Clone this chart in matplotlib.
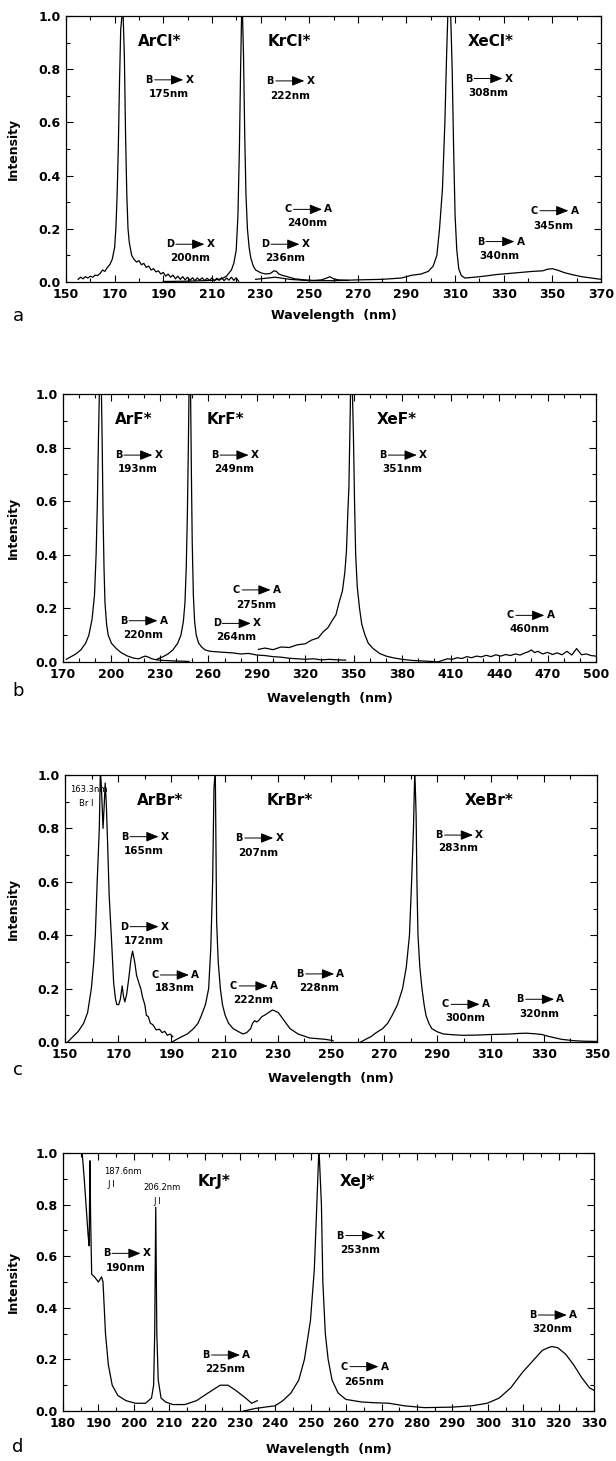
import matplotlib
matplotlib.use('Agg')
import matplotlib.pyplot as plt
import numpy as np
from matplotlib.ticker import FormatStrFormatter
from matplotlib.transforms import offset_copy

plt.rcParams['font.family'] = ['DejaVu Sans']
plt.rcParams['font.weight'] = 'bold'

# ---------------- panel a : chlorides ----------------
arcl_wl = [155, 156, 157, 158, 159, 160, 161, 162, 163, 164,
           165, 166, 167, 168, 169, 170, 170.5, 171, 171.5, 172,
           172.5, 173, 173.5, 174, 174.5, 175, 175.5, 176, 177, 178,
           179, 180, 181, 182, 183, 184, 185, 186, 187, 188,
           189, 190, 191, 192, 193, 194, 195, 196, 197, 198,
           199, 200, 201, 202, 203, 204, 205, 206, 207, 208,
           209, 210, 211, 212, 213, 214, 215, 216, 217, 218,
           219, 220, 221]
arcl_int = [0.010, 0.018, 0.012, 0.020, 0.015, 0.022, 0.018, 0.026, 0.024, 0.032,
            0.045, 0.040, 0.055, 0.065, 0.085, 0.13, 0.20, 0.32, 0.50, 0.75,
            0.95, 1.0, 1.0, 0.85, 0.55, 0.33, 0.20, 0.15, 0.10, 0.085,
            0.075, 0.08, 0.065, 0.07, 0.055, 0.06, 0.045, 0.05, 0.038, 0.042,
            0.03, 0.036, 0.022, 0.03, 0.018, 0.026, 0.012, 0.022, 0.01, 0.02,
            0.008, 0.018, 0.006, 0.016, 0.005, 0.015, 0.007, 0.016, 0.005, 0.014,
            0.006, 0.015, 0.004, 0.014, 0.006, 0.016, 0.005, 0.015, 0.007, 0.018,
            0.006, 0.016, 0.003]

krcl_wl = [190, 200, 210, 214, 216, 218, 219, 220, 220.7, 221.3,
           221.8, 222.2, 222.6, 223.0, 223.5, 224, 224.6, 225.3, 226, 227,
           228, 230, 232, 234, 235.5, 236.5, 237.5, 239, 241, 244,
           248, 252, 255, 257, 258.5, 260, 262, 266]
krcl_int = [0.002, 0.003, 0.006, 0.012, 0.022, 0.045, 0.07, 0.12, 0.25, 0.50,
            0.80, 1.0, 1.0, 0.85, 0.55, 0.33, 0.20, 0.13, 0.09, 0.06,
            0.045, 0.035, 0.03, 0.032, 0.042, 0.04, 0.03, 0.025, 0.02, 0.012,
            0.008, 0.006, 0.008, 0.014, 0.02, 0.012, 0.008, 0.006]

xecl_wl = [228, 236, 242, 250, 260, 270, 280, 288, 292, 296,
           299, 301, 302.5, 303.6, 304.8, 305.8, 306.5, 307, 308.2, 308.8,
           309.4, 310, 310.7, 311.5, 312.5, 314, 318, 322, 327, 332,
           337, 342, 346, 348, 350, 352, 355, 358, 362, 366,
           370]
xecl_int = [0.01, 0.018, 0.01, 0.005, 0.005, 0.008, 0.01, 0.015, 0.025, 0.03,
            0.04, 0.06, 0.1, 0.2, 0.35, 0.6, 0.85, 1.0, 1.0, 0.8,
            0.5, 0.25, 0.12, 0.05, 0.025, 0.015, 0.018, 0.022, 0.028, 0.032,
            0.036, 0.04, 0.042, 0.048, 0.05, 0.045, 0.035, 0.028, 0.02, 0.015,
            0.01]

a_mol = ['ArCl*', 'KrCl*', 'XeCl*']
a_mol_x = [188.7, 241.7, 324.8]
a_from = ['B', 'B', 'B', 'D', 'D', 'C', 'B', 'C']
a_to = ['X', 'X', 'X', 'X', 'X', 'A', 'A', 'A']
a_nm = ['175nm', '222nm', '308nm', '200nm', '236nm', '240nm', '340nm', '345nm']
a_x = [192.2, 242, 323.5, 200.9, 240, 249.3, 328.4, 350.6]
a_y = [0.76, 0.756, 0.765, 0.142, 0.142, 0.273, 0.152, 0.268]
a_nm_y = [0.706, 0.70, 0.712, 0.09, 0.09, 0.223, 0.098, 0.212]

# ---------------- panel b : fluorides ----------------
arf_wl = [172, 175, 178, 181, 184, 186, 188, 189.5, 190.5, 191.3,
          192, 192.5, 193.8, 194.3, 194.8, 195.4, 196, 197, 198, 200,
          203, 206, 210, 214, 217, 219, 221, 223, 225, 228,
          232, 238, 244, 248]
arf_int = [0.01, 0.02, 0.03, 0.045, 0.07, 0.1, 0.16, 0.25, 0.4, 0.6,
           0.85, 1.0, 1.0, 0.8, 0.55, 0.35, 0.22, 0.14, 0.1, 0.07,
           0.05, 0.035, 0.022, 0.014, 0.012, 0.018, 0.022, 0.018, 0.012, 0.008,
           0.006, 0.004, 0.003, 0.002]

krf_wl = [228, 232, 235, 238, 241, 243, 244.5, 245.5, 246.3, 247,
          247.6, 248, 249, 249.5, 250, 250.7, 251.5, 252.5, 254, 256,
          258, 261, 265, 270, 275, 280, 285, 290, 295, 300,
          305, 310, 315, 320, 325, 330, 335, 340, 345]
krf_int = [0.01, 0.02, 0.03, 0.045, 0.07, 0.1, 0.15, 0.22, 0.35, 0.55,
           0.8, 1.0, 1.0, 0.7, 0.45, 0.25, 0.15, 0.1, 0.07, 0.055,
           0.045, 0.04, 0.038, 0.036, 0.034, 0.03, 0.032, 0.026, 0.024, 0.02,
           0.018, 0.014, 0.012, 0.01, 0.012, 0.008, 0.01, 0.008, 0.007]

xef_wl = [291, 295, 300, 305, 310, 315, 320, 324, 328, 331,
          334, 337, 339, 341, 343, 344.5, 345.5, 346.3, 347, 347.6,
          348, 349.2, 349.8, 350.5, 351.2, 352.2, 353.6, 355, 357, 359,
          362, 366, 370, 375, 380, 386, 392, 398, 402]
xef_int = [0.047, 0.052, 0.046, 0.056, 0.054, 0.064, 0.068, 0.082, 0.09, 0.112,
           0.128, 0.158, 0.176, 0.224, 0.265, 0.335, 0.415, 0.55, 0.65, 0.85,
           1.0, 1.0, 0.85, 0.6, 0.4, 0.28, 0.2, 0.14, 0.1, 0.07,
           0.05, 0.032, 0.022, 0.015, 0.01, 0.006, 0.004, 0.002, 0.0]

xef_tail_wl = [402, 405, 408, 411, 414, 417, 420, 423, 426, 429,
               432, 435, 438, 441, 444, 447, 450, 453, 456, 458,
               460, 462, 464, 467, 470, 473, 476, 479, 482, 485,
               488, 491, 494, 497, 500]
xef_tail_int = [0.0, 0.006, 0.012, 0.01, 0.016, 0.013, 0.02, 0.016, 0.022, 0.019,
                0.025, 0.02, 0.027, 0.022, 0.028, 0.024, 0.03, 0.026, 0.034, 0.038,
                0.045, 0.035, 0.04, 0.03, 0.036, 0.028, 0.034, 0.027, 0.04, 0.026,
                0.05, 0.027, 0.03, 0.024, 0.022]

b_mol = ['ArF*', 'KrF*', 'XeF*']
b_mol_x = [214.1, 270.7, 376.8]
b_from = ['B', 'B', 'B', 'B', 'C', 'D', 'C']
b_to = ['X', 'X', 'X', 'A', 'A', 'X', 'A']
b_nm = ['193nm', '249nm', '351nm', '220nm', '275nm', '264nm', '460nm']
b_x = [216.3, 275.9, 380, 219.5, 289.5, 277.3, 459]
b_y = [0.772, 0.772, 0.772, 0.154, 0.269, 0.144, 0.174]
b_nm_y = [0.719, 0.719, 0.719, 0.1, 0.213, 0.092, 0.122]

# ---------------- panel c : bromides ----------------
arbr_wl = [151, 153, 155, 157, 158.5, 159.9, 160.8, 161.4, 162.1, 162.9,
           163.3, 163.7, 164.3, 164.8, 165.1, 165.5, 166, 166.6, 167.4, 168.3,
           169, 169.5, 170.2, 170.8, 171.5, 172, 172.5, 173.2, 174, 174.8,
           175.4, 176.2, 176.9, 177.8, 178.5, 179.1, 180, 180.6, 181.3, 182.1,
           183, 184.3, 185.5, 186.5, 187.5, 188.5, 189.5, 190.5]
arbr_int = [0.0, 0.02, 0.04, 0.07, 0.11, 0.2, 0.3, 0.4, 0.6, 0.8,
            1.02, 0.95, 0.8, 0.9, 0.97, 0.9, 0.75, 0.55, 0.4, 0.22,
            0.16, 0.14, 0.14, 0.16, 0.21, 0.17, 0.15, 0.18, 0.24, 0.31,
            0.34, 0.3, 0.25, 0.22, 0.2, 0.17, 0.14, 0.1, 0.095, 0.07,
            0.065, 0.045, 0.048, 0.035, 0.04, 0.025, 0.03, 0.02]

krbr_wl = [190.2, 192, 193.9, 196, 198.3, 200, 201.3, 202.8, 204, 204.8,
           205.5, 206, 206.5, 207, 207.6, 208.4, 209.2, 210.2, 211.5, 213.2,
           215, 216.9, 218.3, 219.8, 220.5, 221.3, 222, 222.8, 224, 225,
           226.5, 228, 229.2, 230.2, 231.3, 232.4, 234.6, 237.6, 242, 247.9,
           250.8]
krbr_int = [0.0, 0.01, 0.02, 0.03, 0.05, 0.07, 0.1, 0.14, 0.2, 0.35,
            0.6, 0.95, 1.02, 0.45, 0.3, 0.2, 0.14, 0.1, 0.07, 0.05,
            0.04, 0.03, 0.035, 0.05, 0.07, 0.08, 0.075, 0.08, 0.095, 0.1,
            0.11, 0.12, 0.115, 0.11, 0.095, 0.08, 0.05, 0.03, 0.015, 0.01,
            0.005]

xebr_wl = [261.2, 263, 265, 267, 269.4, 271.3, 273, 275, 276.9, 278.3,
           279.5, 280.3, 281, 281.5, 282, 282.3, 282.7, 283.4, 284.2, 285,
           285.7, 286.8, 287.9, 290, 292.3, 296, 299.7, 305, 310, 314,
           317.5, 320.5, 323.4, 326.5, 329.3, 332.2, 336.7, 341.1, 345, 350]
xebr_int = [0.0, 0.01, 0.02, 0.035, 0.05, 0.07, 0.1, 0.14, 0.2, 0.28,
            0.4, 0.6, 0.8, 1.02, 0.85, 0.6, 0.4, 0.28, 0.2, 0.14,
            0.1, 0.07, 0.05, 0.038, 0.03, 0.027, 0.025, 0.026, 0.028, 0.029,
            0.03, 0.032, 0.033, 0.031, 0.028, 0.02, 0.01, 0.005, 0.003, 0.002]

c_mol = ['ArBr*', 'KrBr*', 'XeBr*']
c_mol_x = [185.8, 234.6, 309.3]
c_from = ['B', 'B', 'B', 'D', 'C', 'C', 'B', 'C', 'B']
c_to = ['X', 'X', 'X', 'X', 'A', 'A', 'A', 'A', 'A']
c_nm = ['165nm', '207nm', '283nm', '172nm', '183nm', '222nm', '228nm', '300nm', '320nm']
c_x = [179.7, 222.8, 297.9, 179.7, 191.1, 220.7, 245.7, 300.4, 328.4]
c_y = [0.769, 0.764, 0.775, 0.432, 0.251, 0.21, 0.255, 0.141, 0.16]
c_nm_y = [0.715, 0.709, 0.725, 0.379, 0.201, 0.157, 0.201, 0.089, 0.105]
c_lines = ['163.3nm', 'Br I']
c_lines_x = [158.9, 158]
c_lines_y = [0.944, 0.894]

# ---------------- panel d : iodides ----------------
krj_wl = [185.3, 186, 186.6, 187.1, 187.4, 187.6, 187.8, 188.1, 188.9, 190,
          190.9, 191.3, 192, 192.8, 193.9, 195.5, 197.8, 200.5, 203.3, 205,
          205.6, 205.9, 206.2, 206.5, 206.9, 207.7, 209, 211, 214.4, 217.7,
          221, 224.4, 226.6, 228.8, 231.6, 233.3, 234.9]
krj_int = [1.02, 0.9, 0.78, 0.68, 0.64, 0.97, 0.75, 0.53, 0.52, 0.5,
           0.52, 0.5, 0.3, 0.18, 0.1, 0.06, 0.04, 0.03, 0.03, 0.05,
           0.1, 0.3, 0.79, 0.3, 0.12, 0.05, 0.035, 0.025, 0.025, 0.04,
           0.07, 0.1, 0.1, 0.08, 0.05, 0.03, 0.04]

xej_wl = [231, 234.4, 237, 239.9, 242.1, 244.4, 246.6, 248.2, 249.9, 251,
          251.7, 252.3, 253, 253.4, 254.1, 254.9, 256, 257.7, 259.9, 264.3,
          268, 272.1, 276.5, 282.1, 289.8, 295.4, 299.8, 303.2, 306.5, 309.8,
          313.1, 315.4, 317, 318.1, 319.8, 322, 324.2, 326.5, 328.7, 330]
xej_int = [0.0, 0.01, 0.015, 0.02, 0.04, 0.07, 0.12, 0.2, 0.35, 0.55,
           0.8, 1.02, 0.8, 0.5, 0.3, 0.2, 0.12, 0.07, 0.045, 0.035,
           0.032, 0.03, 0.02, 0.013, 0.015, 0.02, 0.03, 0.05, 0.09, 0.15,
           0.2, 0.235, 0.245, 0.25, 0.245, 0.22, 0.18, 0.13, 0.09, 0.08]

d_mol = ['KrJ*', 'XeJ*']
d_mol_x = [222.7, 263.2]
d_from = ['B', 'B', 'B', 'C', 'B']
d_to = ['X', 'X', 'A', 'A', 'A']
d_nm = ['190nm', '253nm', '225nm', '265nm', '320nm']
d_x = [197.8, 263.8, 225.9, 265, 318.2]
d_y = [0.611, 0.68, 0.217, 0.172, 0.372]
d_nm_y = [0.556, 0.624, 0.162, 0.114, 0.317]
d_lines = ['187.6nm', 'J I', '206.2nm', 'J I']
d_lines_x = [196.9, 193.6, 208.1, 206.6]
d_lines_y = [0.928, 0.876, 0.867, 0.811]

W, H = 616, 1461
fig = plt.figure(figsize=(W / 100, H / 100), dpi=100)


def make_axes(left, top, right, bottom):
    return fig.add_axes([left / W, 1 - bottom / H, (right - left) / W, (bottom - top) / H])


def setup(ax, xmin, xmax, major, minor, labelpad, left, right):
    ax.set_xlim(xmin, xmax)
    ax.set_ylim(0, 1)
    ax.set_xticks(np.arange(xmin, xmax + 1, major))
    ax.set_xticks(np.arange(xmin, xmax + 1, minor), minor=True)
    ax.set_yticks(np.arange(0, 1.01, 0.2))
    ax.set_yticks(np.arange(0, 1.01, 0.1), minor=True)
    ax.yaxis.set_major_formatter(FormatStrFormatter('%.1f'))
    ax.tick_params(which='both', direction='in', top=True, right=True, width=0.8)
    ax.tick_params(which='major', length=5, labelsize=9, pad=4)
    ax.tick_params(which='minor', length=3)
    for s in ax.spines.values():
        s.set_linewidth(0.9)
    ax.set_xlabel('Wavelength  (nm)', fontsize=9, fontweight='bold', labelpad=labelpad)
    ax.set_ylabel('Intensity', fontsize=9, fontweight='bold')
    ax.yaxis.set_label_coords((20 - left) / (right - left), 0.5)


def transition(ax, x, y, a, b, nm, y_nm):
    tr_l = offset_copy(ax.transData, fig=fig, x=-10, y=0, units='points')
    tr_r = offset_copy(ax.transData, fig=fig, x=10.5, y=0, units='points')
    ax.annotate('', xy=(x, y), xycoords=tr_r, xytext=(x, y), textcoords=tr_l,
                arrowprops=dict(arrowstyle='-|>,head_length=0.75,head_width=0.3',
                                color='black', lw=0.7, shrinkA=0, shrinkB=0,
                                mutation_scale=10))
    ax.text(x, y, a, transform=offset_copy(ax.transData, fig=fig, x=-14, units='points'),
            ha='center', va='center', fontsize=7)
    ax.text(x, y, b, transform=offset_copy(ax.transData, fig=fig, x=15, units='points'),
            ha='center', va='center', fontsize=7.5)
    ax.text(x, y_nm, nm, ha='center', va='center', fontsize=7.5)


def labels(ax, mols, mol_x, mol_y, frm, to, nms, xs, ys, nm_ys):
    for m, mx in zip(mols, mol_x):
        ax.text(mx, mol_y, m, ha='center', va='center', fontsize=11)
    for a, b, nm, x, y, yn in zip(frm, to, nms, xs, ys, nm_ys):
        transition(ax, x, y, a, b, nm, yn)


lw = 0.9

# a
ax = make_axes(66, 16, 601, 282)
ax.plot(arcl_wl, arcl_int, 'k', lw=lw)
ax.plot(krcl_wl, krcl_int, 'k', lw=lw)
ax.plot(xecl_wl, xecl_int, 'k', lw=lw)
setup(ax, 150, 370, 20, 10, 6, 66, 601)
labels(ax, a_mol, a_mol_x, 0.903, a_from, a_to, a_nm, a_x, a_y, a_nm_y)

# b
ax = make_axes(63, 394, 596, 662)
ax.plot(arf_wl, arf_int, 'k', lw=lw)
ax.plot(krf_wl, krf_int, 'k', lw=lw)
ax.plot(xef_wl, xef_int, 'k', lw=lw)
ax.plot(xef_tail_wl, xef_tail_int, 'k', lw=lw)
setup(ax, 170, 500, 30, 10, 8, 63, 596)
labels(ax, b_mol, b_mol_x, 0.903, b_from, b_to, b_nm, b_x, b_y, b_nm_y)

# c
ax = make_axes(65, 775, 597, 1042)
ax.plot(arbr_wl, arbr_int, 'k', lw=lw)
ax.plot(krbr_wl, krbr_int, 'k', lw=lw)
ax.plot(xebr_wl, xebr_int, 'k', lw=lw)
setup(ax, 150, 350, 20, 10, 8, 65, 597)
labels(ax, c_mol, c_mol_x, 0.906, c_from, c_to, c_nm, c_x, c_y, c_nm_y)
for t, x, y in zip(c_lines, c_lines_x, c_lines_y):
    ax.text(x, y, t, ha='center', va='center', fontsize=6, fontweight='normal')

# d
ax = make_axes(63, 1153, 594, 1411)
ax.plot(krj_wl, krj_int, 'k', lw=lw)
ax.plot(xej_wl, xej_int, 'k', lw=lw)
setup(ax, 180, 330, 10, 5, 10, 63, 594)
labels(ax, d_mol, d_mol_x, 0.889, d_from, d_to, d_nm, d_x, d_y, d_nm_y)
for t, x, y in zip(d_lines, d_lines_x, d_lines_y):
    ax.text(x, y, t, ha='center', va='center', fontsize=6, fontweight='normal')

for letter, ypx in zip(['a', 'b', 'c', 'd'], [316, 691, 1070, 1447]):
    fig.text(18 / W, 1 - ypx / H, letter, ha='center', va='center',
             fontsize=13, fontweight='normal')

fig.savefig('out.png', dpi=100, facecolor='white')
